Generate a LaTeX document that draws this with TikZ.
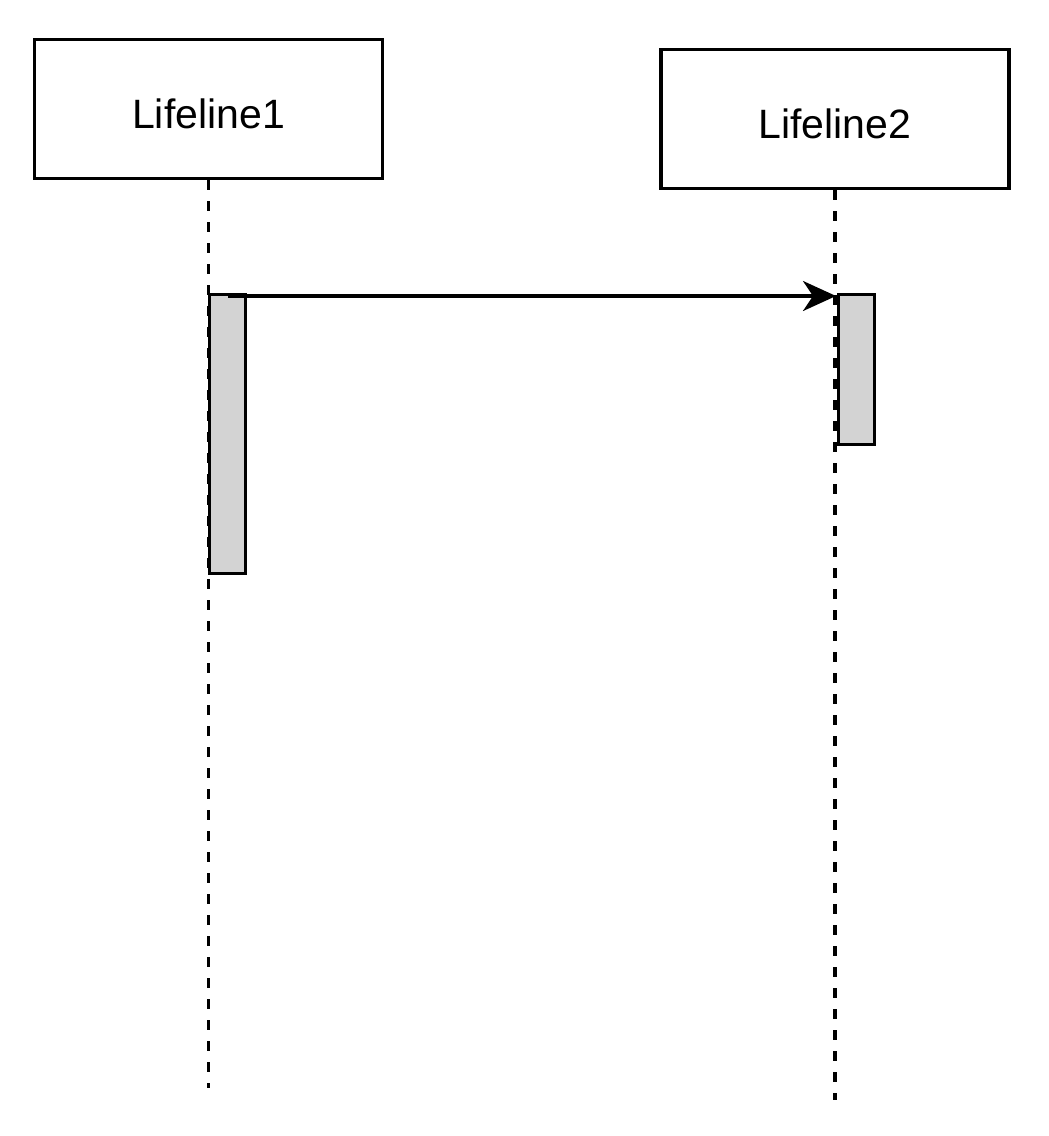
\documentclass[tikz,border=0pt]{standalone}
\usepackage{fontspec}
\setsansfont{Liberation Sans}
\usetikzlibrary{arrows.meta, positioning}
\definecolor{cact}{HTML}{D3D3D3}
\tikzset{
  every picture/.style={font=\sffamily, line width=3.3pt},
  lifebox/.style={draw=black, fill=white, minimum width=348pt, minimum height=139pt, inner sep=0pt, text height=40pt, font=\sffamily\fontsize{41}{48}\selectfont},
  life/.style={draw=black, dash pattern=on 10pt off 11pt},
  act/.style={draw=black, fill=cact, minimum width=36pt, minimum height=#1, inner sep=0pt, anchor=north west},
  msg/.style={-{Stealth[length=33pt, width=30pt, inset=10pt]}, draw=black},
}

\begin{document}
\begin{tikzpicture}[x=1pt, y=-1pt]
  \useasboundingbox (0,0) rectangle (1049,1136);
  % lifeline heads
  \node[lifebox] (l1) at (208.5, 109) {Lifeline1};
  \node[lifebox] (l2) at (835, 119) {Lifeline2};
  \coordinate (e1) at (208.5, 1088);
  \coordinate (e2) at (835, 1100);
  \draw[life] (l1.south) -- (e1);
  \draw[life] (l2.south) -- (e2);
  % activations
  \node[act=279pt] (a1) at (208, 293) {};
  \node[act=150pt] (a2) at (837, 293) {};
  % message
  \coordinate (m1) at ([xshift=20pt, yshift=-3pt]a1.north west);
  \coordinate (m2) at ([xshift=-1pt, yshift=-3pt]a2.north west);
  \draw[msg] (m1) -- (m2);
\end{tikzpicture}
\end{document}
